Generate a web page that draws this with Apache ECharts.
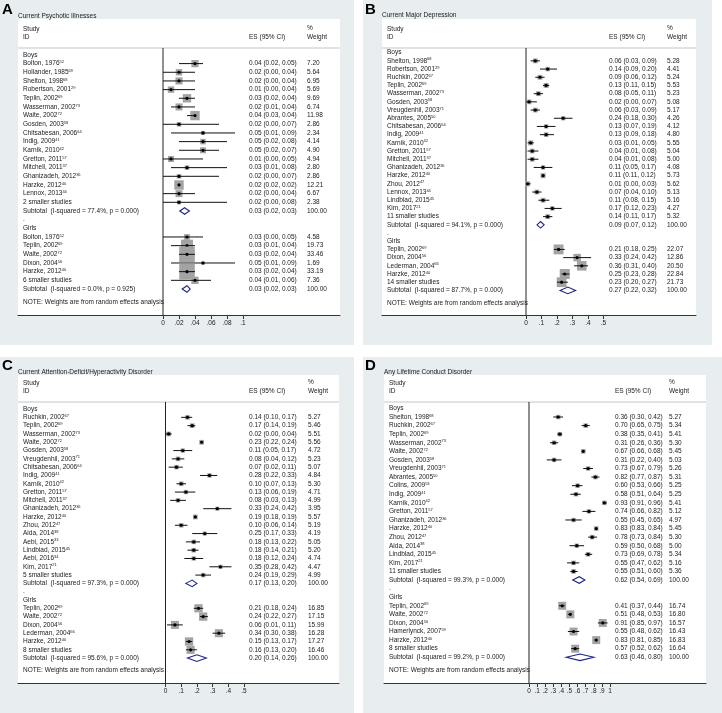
<!DOCTYPE html>
<html>
<head>
<meta charset="utf-8">
<script src="https://cdn.jsdelivr.net/npm/echarts@6/dist/echarts.min.js"></script>
<style>
html, body { margin: 0; padding: 0; background: #fff; }
#main { width: 722px; height: 713px; }
</style>
</head>
<body>
<div id="main"></div>
<script>
// rows: [study, ref, es, lo, hi, weight]
// A - Current Psychotic Illnesses
const psyBoys = [
  ['Bolton, 1976', '52', 0.04, 0.02, 0.05, 7.20],
  ['Hollander, 1985', '69', 0.02, 0.00, 0.04, 5.64],
  ['Shelton, 1998', '68', 0.02, 0.00, 0.04, 6.95],
  ['Robertson, 2001', '29', 0.01, 0.00, 0.04, 5.69],
  ['Teplin, 2002', '69', 0.03, 0.02, 0.04, 9.69],
  ['Wasserman, 2002', '73', 0.02, 0.01, 0.04, 6.74],
  ['Waite, 2002', '72', 0.04, 0.03, 0.04, 11.98],
  ['Gosden, 2003', '58', 0.02, 0.00, 0.07, 2.86],
  ['Chitsabesan, 2006', '64', 0.05, 0.01, 0.09, 2.34],
  ['Indig, 2009', '41', 0.05, 0.02, 0.08, 4.14],
  ['Karnik, 2010', '42', 0.05, 0.02, 0.07, 4.90],
  ['Gretton, 2011', '57', 0.01, 0.00, 0.05, 4.94],
  ['Mitchell, 2011', '37', 0.03, 0.01, 0.08, 2.80],
  ['Ghanizadeh, 2012', '36', 0.02, 0.00, 0.07, 2.86],
  ['Harzke, 2012', '40', 0.02, 0.02, 0.02, 12.21],
  ['Lennox, 2013', '44', 0.02, 0.00, 0.04, 6.67],
  ['2 smaller studies', '', 0.02, 0.00, 0.08, 2.38]
];
const psyBoysSub = [0.027, 0.021, 0.033, '77.4%, p = 0.000'];
const psyGirls = [
  ['Bolton, 1976', '52', 0.03, 0.00, 0.05, 4.58],
  ['Teplin, 2002', '69', 0.03, 0.01, 0.04, 19.73],
  ['Waite, 2002', '72', 0.03, 0.02, 0.04, 33.46],
  ['Dixon, 2004', '56', 0.05, 0.01, 0.09, 1.69],
  ['Harzke, 2012', '40', 0.03, 0.02, 0.04, 33.19],
  ['6 smaller studies', '', 0.04, 0.01, 0.06, 7.36]
];
const psyGirlsSub = [0.030, 0.024, 0.034, '0.0%, p = 0.925'];
const psyTicks = [0, 0.02, 0.04, 0.06, 0.08, 0.1];

// B - Current Major Depression
const depBoys = [
  ['Shelton, 1998', '68', 0.06, 0.03, 0.09, 5.28],
  ['Robertson, 2001', '29', 0.14, 0.09, 0.20, 4.41],
  ['Ruchkin, 2002', '67', 0.09, 0.06, 0.12, 5.24],
  ['Teplin, 2002', '69', 0.13, 0.11, 0.15, 5.53],
  ['Wasserman, 2002', '73', 0.08, 0.05, 0.11, 5.23],
  ['Gosden, 2003', '58', 0.02, 0.00, 0.07, 5.08],
  ['Vreugdenhil, 2003', '71', 0.06, 0.03, 0.09, 5.17],
  ['Abrantes, 2005', '50', 0.24, 0.18, 0.30, 4.26],
  ['Chitsabesan, 2006', '64', 0.13, 0.07, 0.19, 4.12],
  ['Indig, 2009', '41', 0.13, 0.09, 0.18, 4.80],
  ['Karnik, 2010', '42', 0.03, 0.01, 0.05, 5.55],
  ['Gretton, 2011', '57', 0.04, 0.01, 0.08, 5.04],
  ['Mitchell, 2011', '37', 0.04, 0.01, 0.08, 5.00],
  ['Ghanizadeh, 2012', '36', 0.11, 0.05, 0.17, 4.08],
  ['Harzke, 2012', '40', 0.11, 0.11, 0.12, 5.73],
  ['Zhou, 2012', '47', 0.01, 0.00, 0.03, 5.62],
  ['Lennox, 2013', '44', 0.07, 0.04, 0.10, 5.13],
  ['Lindblad, 2015', '45', 0.11, 0.08, 0.15, 5.16],
  ['Kim, 2017', '21', 0.17, 0.12, 0.23, 4.27],
  ['11 smaller studies', '', 0.14, 0.11, 0.17, 5.32]
];
const depBoysSub = [0.094, 0.071, 0.117, '94.1%, p = 0.000'];
const depGirls = [
  ['Teplin, 2002', '69', 0.21, 0.18, 0.25, 22.07],
  ['Dixon, 2004', '56', 0.33, 0.24, 0.42, 12.86],
  ['Lederman, 2004', '66', 0.36, 0.31, 0.40, 20.50],
  ['Harzke, 2012', '40', 0.25, 0.23, 0.28, 22.84],
  ['14 smaller studies', '', 0.23, 0.20, 0.27, 21.73]
];
const depGirlsSub = [0.27, 0.22, 0.32, '87.7%, p = 0.000'];
const depTicks = [0, 0.1, 0.2, 0.3, 0.4, 0.5];

// C - Current ADHD
const adhdBoys = [
  ['Ruchkin, 2002', '67', 0.14, 0.10, 0.17, 5.27],
  ['Teplin, 2002', '69', 0.17, 0.14, 0.19, 5.46],
  ['Wasserman, 2002', '73', 0.02, 0.00, 0.04, 5.51],
  ['Waite, 2002', '72', 0.23, 0.22, 0.24, 5.56],
  ['Gosden, 2003', '58', 0.11, 0.05, 0.17, 4.72],
  ['Vreugdenhil, 2003', '71', 0.08, 0.04, 0.12, 5.23],
  ['Chitsabesan, 2006', '64', 0.07, 0.02, 0.11, 5.07],
  ['Indig, 2009', '41', 0.28, 0.22, 0.33, 4.84],
  ['Karnik, 2010', '42', 0.10, 0.07, 0.13, 5.30],
  ['Gretton, 2011', '57', 0.13, 0.06, 0.19, 4.71],
  ['Mitchell, 2011', '37', 0.08, 0.03, 0.13, 4.99],
  ['Ghanizadeh, 2012', '36', 0.33, 0.24, 0.42, 3.95],
  ['Harzke, 2012', '40', 0.19, 0.18, 0.19, 5.57],
  ['Zhou, 2012', '47', 0.10, 0.06, 0.14, 5.19],
  ['Aida, 2014', '38', 0.25, 0.17, 0.33, 4.19],
  ['Aebi, 2015', '33', 0.18, 0.13, 0.22, 5.05],
  ['Lindblad, 2015', '45', 0.18, 0.14, 0.21, 5.20],
  ['Aebi, 2016', '34', 0.18, 0.12, 0.24, 4.74],
  ['Kim, 2017', '21', 0.35, 0.28, 0.42, 4.47],
  ['5 smaller studies', '', 0.24, 0.19, 0.29, 4.99]
];
const adhdBoysSub = [0.17, 0.13, 0.20, '97.3%, p = 0.000'];
const adhdGirls = [
  ['Teplin, 2002', '69', 0.21, 0.18, 0.24, 16.85],
  ['Waite, 2002', '72', 0.24, 0.22, 0.27, 17.15],
  ['Dixon, 2004', '56', 0.06, 0.01, 0.11, 15.99],
  ['Lederman, 2004', '66', 0.34, 0.30, 0.38, 16.28],
  ['Harzke, 2012', '40', 0.15, 0.13, 0.17, 17.27],
  ['8 smaller studies', '', 0.16, 0.13, 0.20, 16.46]
];
const adhdGirlsSub = [0.20, 0.14, 0.26, '95.6%, p = 0.000'];
const adhdTicks = [0, 0.1, 0.2, 0.3, 0.4, 0.5];

// D - Any Lifetime Conduct Disorder
const cdBoys = [
  ['Shelton, 1998', '68', 0.36, 0.30, 0.42, 5.27],
  ['Ruchkin, 2002', '67', 0.70, 0.65, 0.75, 5.34],
  ['Teplin, 2002', '69', 0.38, 0.35, 0.41, 5.41],
  ['Wasserman, 2002', '73', 0.31, 0.26, 0.36, 5.30],
  ['Waite, 2002', '72', 0.67, 0.66, 0.68, 5.45],
  ['Gosden, 2003', '58', 0.31, 0.22, 0.40, 5.03],
  ['Vreugdenhil, 2003', '71', 0.73, 0.67, 0.79, 5.26],
  ['Abrantes, 2005', '50', 0.82, 0.77, 0.87, 5.31],
  ['Colins, 2009', '53', 0.60, 0.53, 0.66, 5.25],
  ['Indig, 2009', '41', 0.58, 0.51, 0.64, 5.25],
  ['Karnik, 2010', '42', 0.93, 0.91, 0.96, 5.41],
  ['Gretton, 2011', '57', 0.74, 0.66, 0.82, 5.12],
  ['Ghanizadeh, 2012', '36', 0.55, 0.45, 0.65, 4.97],
  ['Harzke, 2012', '40', 0.83, 0.83, 0.84, 5.45],
  ['Zhou, 2012', '47', 0.78, 0.73, 0.84, 5.30],
  ['Aida, 2014', '38', 0.59, 0.50, 0.68, 5.00],
  ['Lindblad, 2015', '45', 0.73, 0.69, 0.78, 5.34],
  ['Kim, 2017', '21', 0.55, 0.47, 0.62, 5.16],
  ['11 smaller studies', '', 0.55, 0.51, 0.60, 5.36]
];
const cdBoysSub = [0.62, 0.54, 0.69, '99.3%, p = 0.000'];
const cdGirls = [
  ['Teplin, 2002', '69', 0.41, 0.37, 0.44, 16.74],
  ['Waite, 2002', '72', 0.51, 0.48, 0.53, 16.80],
  ['Dixon, 2004', '56', 0.91, 0.85, 0.97, 16.57],
  ['Hamerlynck, 2007', '59', 0.55, 0.48, 0.62, 16.43],
  ['Harzke, 2012', '40', 0.83, 0.81, 0.85, 16.83],
  ['8 smaller studies', '', 0.57, 0.52, 0.62, 16.64]
];
const cdGirlsSub = [0.63, 0.46, 0.80, '99.2%, p = 0.000'];
const cdTicks = [0, 0.1, 0.2, 0.3, 0.4, 0.5, 0.6, 0.7, 0.8, 0.9, 1];

const FONT = '"Liberation Sans", Arial, Helvetica, sans-serif';
const FS = 6.5;
const INK = '#1a1a1a';
const BG = '#e8edf0';
const BOX = '#a3a3a3';
const NAVY = '#1d2585';

function buildRows(boys, boysSub, girls, girlsSub) {
  const rows = [];
  const add = r => { r.row = rows.length; rows.push(r); };
  const group = (name, list, sub) => {
    add({ kind: 'label', text: name });
    list.forEach(s => add({ kind: 'study', name: s[0], ref: s[1], es: s[2], lo: s[3], hi: s[4], wt: s[5] }));
    add({ kind: 'sub', name: 'Subtotal  (I-squared = ' + sub[3] + ')', es: sub[0], lo: sub[1], hi: sub[2], wt: 100 });
  };
  group('Boys', boys, boysSub);
  add({ kind: 'label', text: '.' });
  group('Girls', girls, girlsSub);
  rows.push({ kind: 'label', text: 'NOTE: Weights are from random effects analysis', row: rows.length + 0.5 });
  return rows;
}

// boxK: box side = boxK * sqrt(weight)
const panels = [
  { letter: 'A', title: 'Current Psychotic Illnesses', rows: buildRows(psyBoys, psyBoysSub, psyGirls, psyGirlsSub), ticks: psyTicks,
    bg: [0, 0, 354, 345], box: [18, 19, 322, 296], grid: [18, 48, 322, 267], boxK: 2.7,
    xMin: -0.18125, xMax: 0.22125, yMin: -0.8, yMax: 30, colES: 231, colWt: 289, titleY: 16, letterY: 10 },
  { letter: 'B', title: 'Current Major Depression', rows: buildRows(depBoys, depBoysSub, depGirls, depGirlsSub), ticks: depTicks,
    bg: [363, 0, 349, 345], box: [382, 19, 314, 296], grid: [382, 48, 314, 267], boxK: 2.1,
    xMin: -0.92903, xMax: 1.09677, yMin: -0.57, yMax: 32, colES: 227, colWt: 285, titleY: 15.5, letterY: 10 },
  { letter: 'C', title: 'Current Attention-Deficit/Hyperactivity Disorder', rows: buildRows(adhdBoys, adhdBoysSub, adhdGirls, adhdGirlsSub), ticks: adhdTicks,
    bg: [0, 357, 354, 356], box: [18, 375, 321, 308], grid: [18, 402, 321, 281], boxK: 2.0,
    xMin: -0.93949, xMax: 1.10510, yMin: -0.85, yMax: 33, colES: 231, colWt: 290, titleY: 372, letterY: 366 },
  { letter: 'D', title: 'Any Lifetime Conduct Disorder', rows: buildRows(cdBoys, cdBoysSub, cdGirls, cdGirlsSub), ticks: cdTicks,
    bg: [363, 357, 359, 356], box: [384, 375, 322, 308], grid: [384, 402, 322, 281], boxK: 1.95,
    xMin: -1.79012, xMax: 2.18519, yMin: -0.75, yMax: 32, colES: 231, colWt: 285, titleY: 372, letterY: 366 }
];

function txt(x, y, text, extra) {
  return Object.assign({ type: 'text', x: x, y: y,
    style: { text: text, fontSize: FS, fontFamily: FONT, fill: INK, align: 'left', verticalAlign: 'middle' } }, extra || {});
}

function makeRender(p) {
  return function (params, api) {
    const r = p.rows[params.dataIndex];
    const cs = params.coordSys;
    const y = api.coord([0, r.row])[1];
    const kids = [];
    if (params.dataIndex === 0) {
      const x0 = api.coord([0, 0])[0];
      kids.push({ type: 'line', shape: { x1: x0, y1: cs.y, x2: x0, y2: cs.y + cs.height },
        style: { stroke: '#222', lineWidth: 1 } });
    }
    const lx = cs.x + 5;
    if (r.kind === 'label') {
      kids.push(txt(lx, y, r.text));
    } else {
      const xe = api.coord([r.es, r.row])[0];
      const xl = api.coord([r.lo, r.row])[0];
      const xh = api.coord([r.hi, r.row])[0];
      if (r.kind === 'study') {
        const s = p.boxK * Math.sqrt(r.wt);
        kids.push({ type: 'rect', shape: { x: xe - s / 2, y: y - s / 2, width: s, height: s }, style: { fill: BOX } });
        kids.push({ type: 'line', shape: { x1: xl, y1: y, x2: xh, y2: y }, style: { stroke: '#111', lineWidth: 1 } });
        kids.push({ type: 'circle', shape: { cx: xe, cy: y, r: 1.6 }, style: { fill: '#000' } });
        const label = r.ref ? '{n|' + r.name + '}{s|' + r.ref + '}' : '{n|' + r.name + '}';
        kids.push({ type: 'text', x: lx, y: y, style: {
          text: label, align: 'left', verticalAlign: 'middle',
          rich: {
            n: { fontSize: FS, fontFamily: FONT, fill: INK },
            s: { fontSize: 4, fontFamily: FONT, fill: INK, verticalAlign: 'top' }
          } } });
      } else {
        kids.push({ type: 'polygon', shape: { points: [[xl, y], [xe, y - 3.3], [xh, y], [xe, y + 3.3]] },
          style: { fill: '#fff', stroke: NAVY, lineWidth: 1.1 } });
        kids.push(txt(lx, y, r.name));
      }
      const es = r.es.toFixed(2) + ' (' + r.lo.toFixed(2) + ', ' + r.hi.toFixed(2) + ')';
      kids.push(txt(cs.x + p.colES, y, es));
      kids.push(txt(cs.x + p.colWt, y, r.wt.toFixed(2)));
    }
    return { type: 'group', children: kids };
  };
}

const graphics = [];
panels.forEach(p => {
  const b = p.box, g = p.grid;
  graphics.push({ type: 'rect', z: -10, silent: true, shape: { x: p.bg[0], y: p.bg[1], width: p.bg[2], height: p.bg[3] }, style: { fill: BG } });
  graphics.push({ type: 'rect', z: -9, silent: true, shape: { x: b[0], y: b[1], width: b[2], height: b[3] }, style: { fill: '#fff' } });
  graphics.push({ type: 'line', z: -8, silent: true, shape: { x1: b[0], y1: g[1], x2: b[0] + b[2], y2: g[1] }, style: { stroke: '#d4dadf', lineWidth: 1.5 } });
  const hy = g[1] - 10.5;
  [
    [b[0] + 5, g[1] - 19, 'Study'], [b[0] + 5, hy, 'ID'],
    [g[0] + p.colES, hy, 'ES (95% CI)'],
    [g[0] + p.colWt, g[1] - 20, '%'], [g[0] + p.colWt, hy, 'Weight']
  ].forEach(h => graphics.push(Object.assign(txt(h[0], h[1], h[2]), { z: 5, silent: true })));
  graphics.push(Object.assign(txt(b[0], p.titleY, p.title), { z: 5, silent: true }));
  graphics.push({ type: 'text', z: 5, silent: true, x: p.bg[0] + 2, y: p.letterY,
    style: { text: p.letter, fontSize: 15, fontWeight: 'bold', fontFamily: FONT, fill: '#000', verticalAlign: 'middle' } });
});

const chart = echarts.init(document.getElementById('main'));
chart.setOption({
  animation: false,
  graphic: { elements: graphics },
  grid: panels.map(p => ({ left: p.grid[0], top: p.grid[1], width: p.grid[2], height: p.grid[3], containLabel: false, outerBoundsMode: 'none' })),
  xAxis: panels.map((p, i) => ({
    type: 'value', gridIndex: i, min: p.xMin, max: p.xMax, position: 'bottom',
    splitLine: { show: false },
    axisLine: { show: true, onZero: false, lineStyle: { color: '#333', width: 1 } },
    axisTick: { show: true, customValues: p.ticks, length: 4, lineStyle: { color: '#333', width: 1 } },
    axisLabel: { show: true, customValues: p.ticks, margin: 5, fontSize: FS, fontFamily: FONT, color: INK,
      formatter: v => (v === 0 ? '0' : v === 1 ? '1' : String(+v.toFixed(2)).replace(/^0/, '')) }
  })),
  yAxis: panels.map((p, i) => ({
    type: 'value', gridIndex: i, inverse: true, min: p.yMin, max: p.yMax, show: false
  })),
  series: panels.map((p, i) => ({
    type: 'custom', xAxisIndex: i, yAxisIndex: i, clip: false, silent: true,
    encode: { x: 0, y: 1 },
    data: p.rows.map(r => [r.es !== undefined ? r.es : 0, r.row]),
    renderItem: makeRender(p)
  }))
});
</script>
</body>
</html>
